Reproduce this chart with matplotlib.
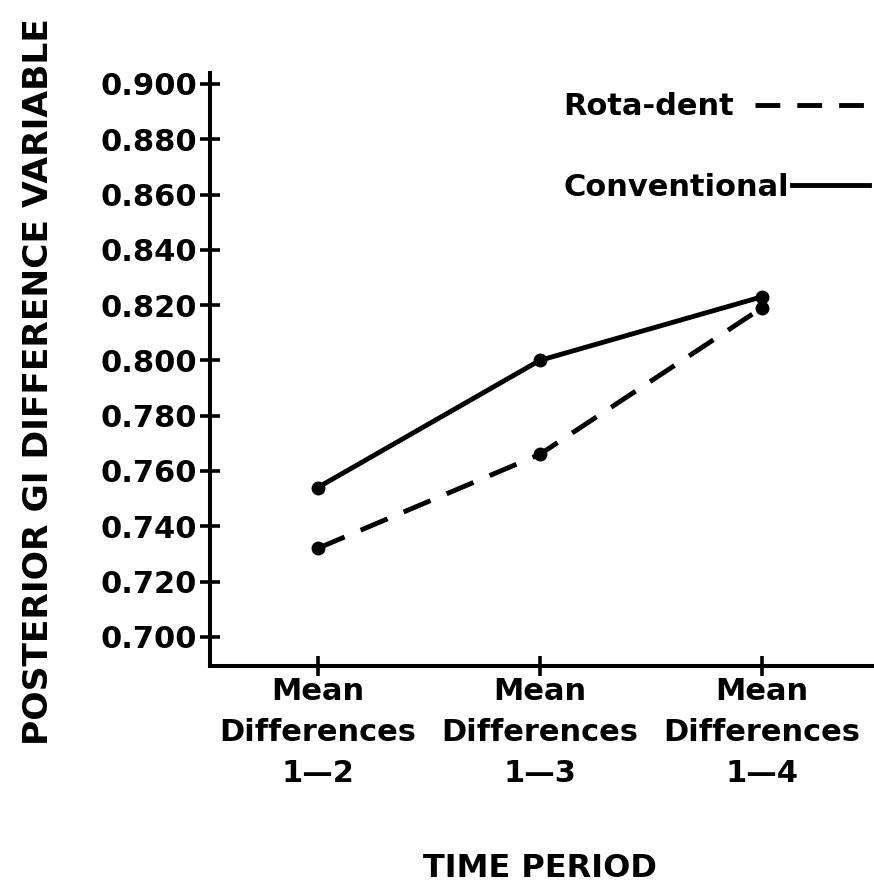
import matplotlib
matplotlib.use('Agg')
import matplotlib.pyplot as plt
from matplotlib.lines import Line2D

# data
periods = ['Mean\nDifferences\n1\u20142', 'Mean\nDifferences\n1\u20143', 'Mean\nDifferences\n1\u20144']
conventional = [0.754, 0.800, 0.823]
rotadent = [0.732, 0.766, 0.819]
yticks = [0.700, 0.720, 0.740, 0.760, 0.780, 0.800, 0.820, 0.840, 0.860, 0.880, 0.900]

plt.rcParams['font.family'] = 'DejaVu Sans'
plt.rcParams['font.weight'] = 'bold'

fig = plt.figure(figsize=(8.74, 8.89), dpi=100)
ax = fig.add_axes([0.240, 0.251, 0.760, 0.667])

x = list(range(len(periods)))
ax.plot(x, conventional, color='black', lw=3.5, marker='o', ms=9, solid_capstyle='round')
ax.plot(x, rotadent, color='black', lw=3.5, marker='o', ms=9, dashes=(6, 3.6))

ax.set_xlim(-0.486, 2.505)
ax.set_ylim(0.6895, 0.904)

ax.set_yticks(yticks)
ax.set_yticklabels(['%.3f' % v for v in yticks])
ax.set_xticks(x)
ax.set_xticklabels(periods, linespacing=1.53)

for s in ['top', 'right']:
    ax.spines[s].set_visible(False)
for s in ['left', 'bottom']:
    ax.spines[s].set_linewidth(2.9)

ax.tick_params(axis='both', direction='inout', length=14, width=2.6, labelsize=22, pad=2)
ax.tick_params(axis='x', pad=1)

ax.set_ylabel('POSTERIOR GI DIFFERENCE VARIABLE', fontsize=24.8, fontweight='bold')
ax.yaxis.set_label_coords(-0.233, 0.48)
ax.set_xlabel('TIME PERIOD', fontsize=23, fontweight='bold')
ax.xaxis.set_label_coords(0.497, -0.315)

# legend: two single-entry legends, text first then line key
leg1 = ax.legend([Line2D([], [], color='black', lw=3.5, dashes=(5.1, 3.5))], ['Rota-dent'],
                 loc='upper left', bbox_to_anchor=(0.532, 0.967), frameon=False,
                 markerfirst=False, fontsize=22, handlelength=3.65, handletextpad=0.7,
                 borderpad=0, borderaxespad=0)
ax.add_artist(leg1)
ax.legend([Line2D([], [], color='black', lw=3.5)], ['Conventional'],
          loc='upper left', bbox_to_anchor=(0.532, 0.832), frameon=False,
          markerfirst=False, fontsize=22, handlelength=2.5, handletextpad=0.12,
          borderpad=0, borderaxespad=0)

fig.savefig('out.png', dpi=100)
